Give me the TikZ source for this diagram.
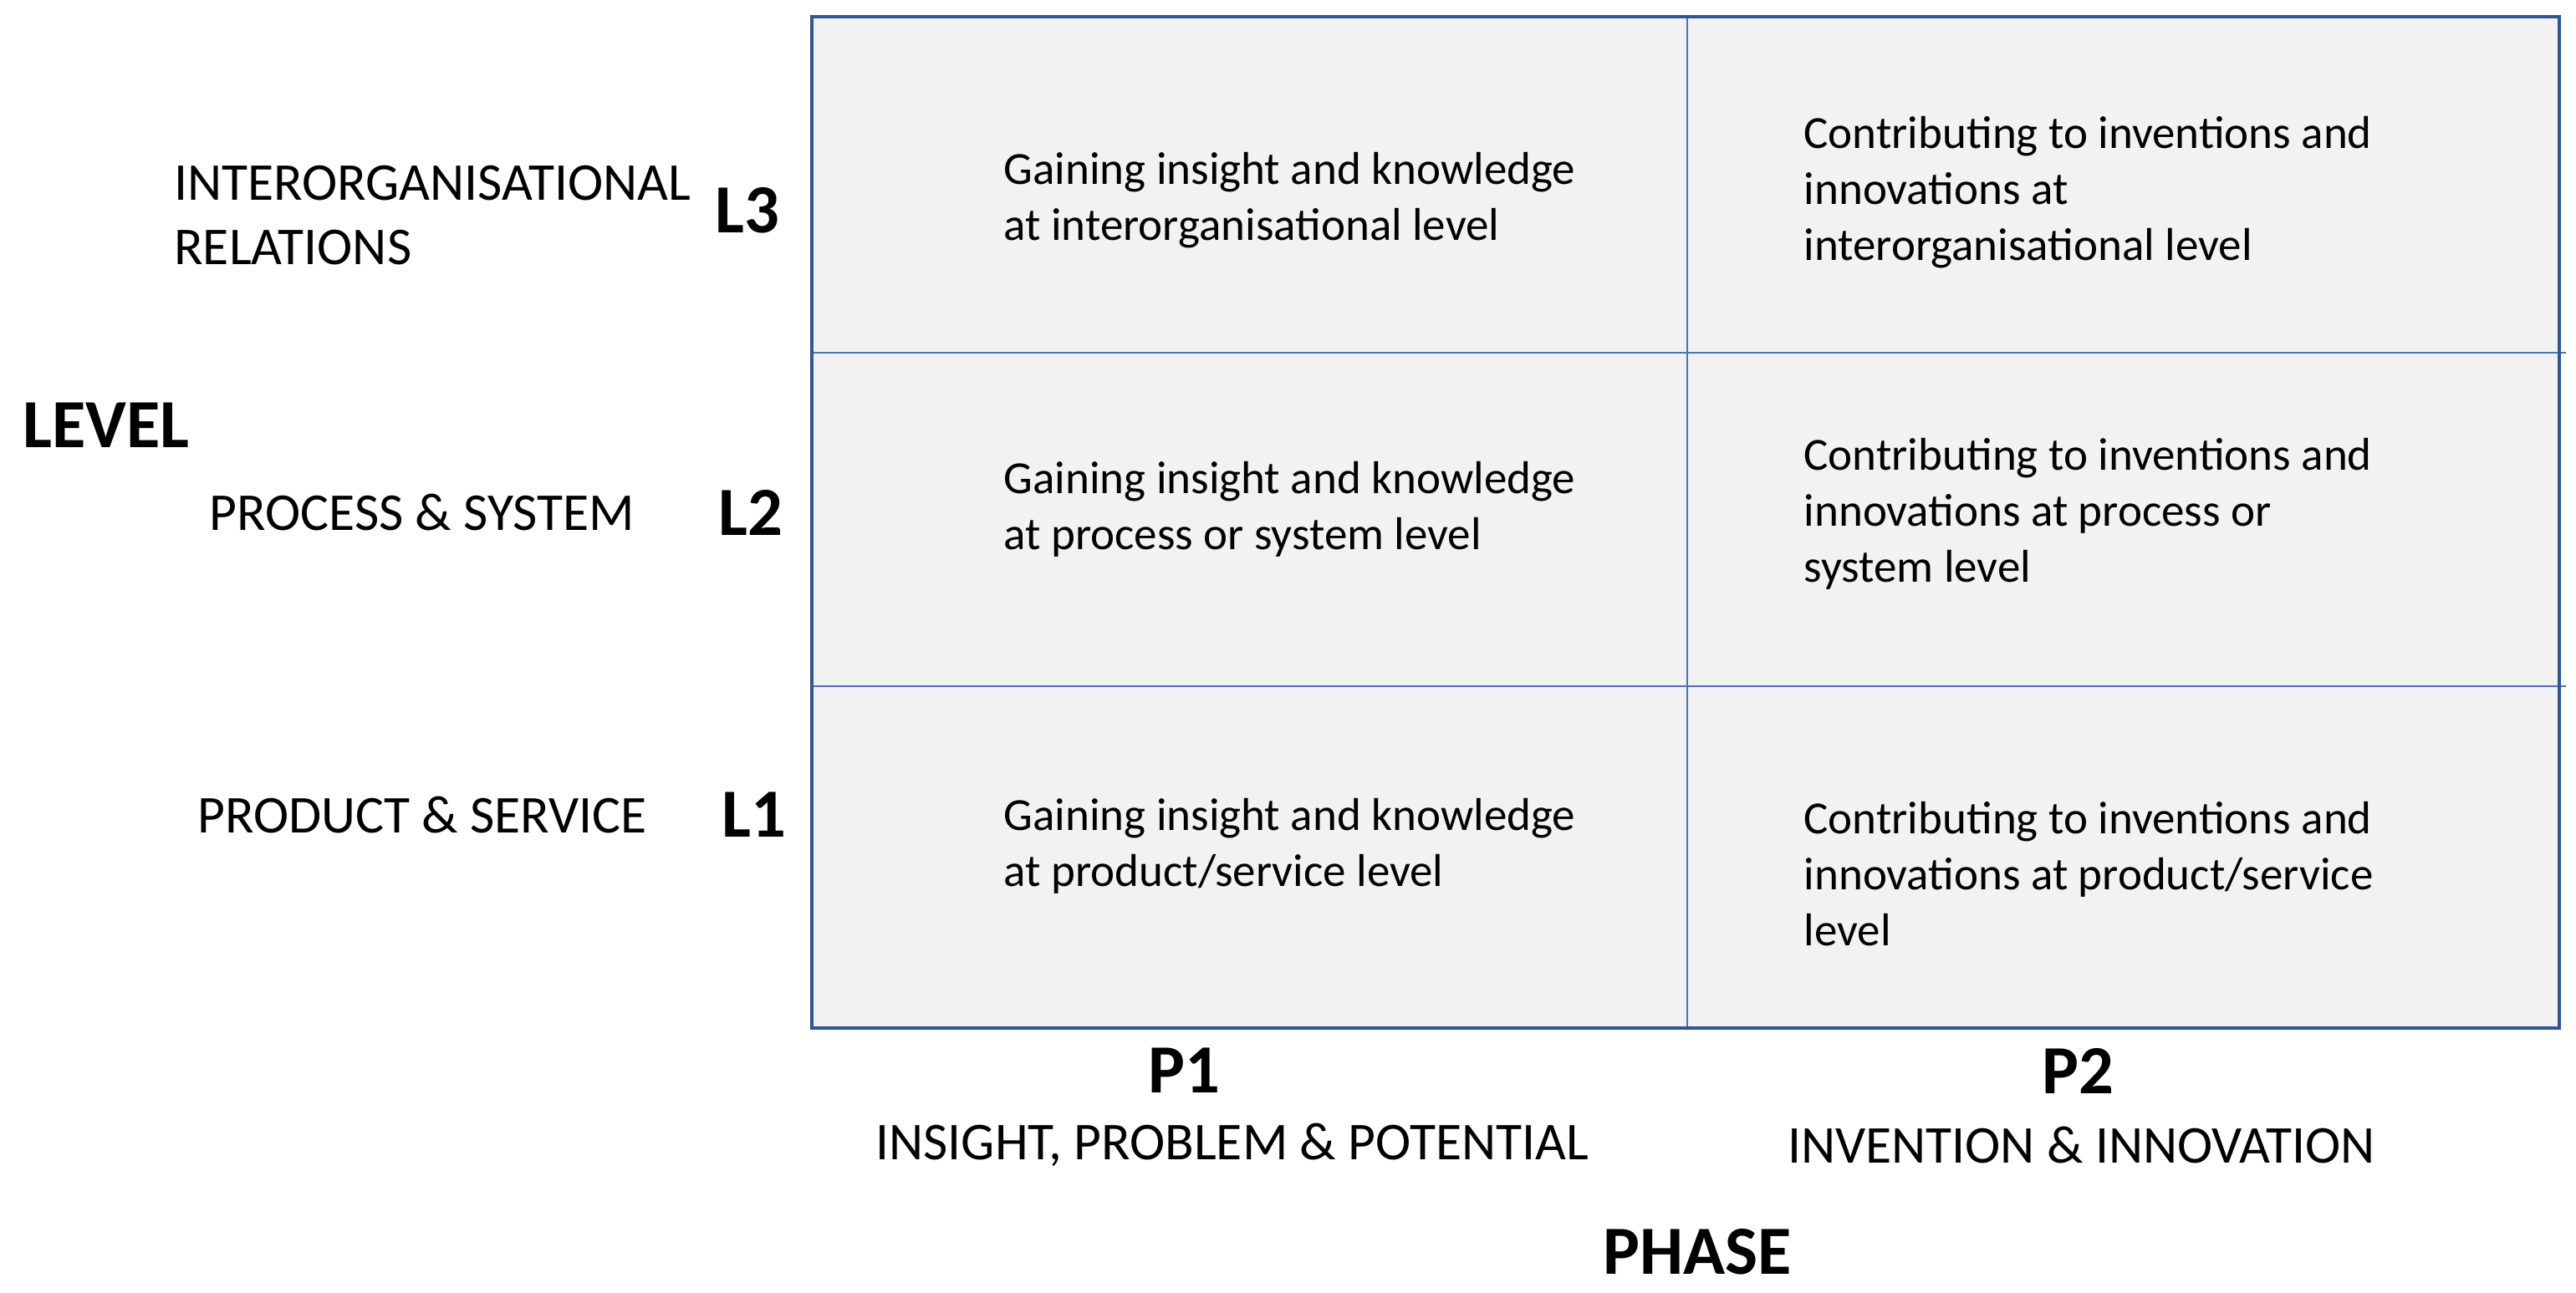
\documentclass[tikz,border=0pt]{standalone}
\usepackage{fontspec}
\setmainfont{Carlito}
\definecolor{bord}{HTML}{2F5597}
\definecolor{inner}{HTML}{4472C4}
\definecolor{cell}{HTML}{F2F2F2}
\begin{document}
\begin{tikzpicture}[x=0.5pt,y=-0.5pt,
  celltxt/.style={anchor=west,align=left,font=\fontsize{14}{17}\selectfont},
  lab/.style={font=\fontsize{16.2}{19.5}\selectfont},
  big/.style={font=\bfseries\fontsize{21}{24}\selectfont}]
\useasboundingbox (0,0) rectangle (1568,787);
\fill[cell] (494,10) rectangle (1558,626);
\draw[inner,line width=0.5pt] (1027,10) -- (1027,626);
\draw[inner,line width=0.5pt] (494,215) -- (1562,215);
\draw[inner,line width=0.5pt] (494,418) -- (1562,418);
\draw[bord,line width=1pt] (494,10) rectangle (1558,626);
\node[celltxt] (a3) at (604,122) {Gaining insight and knowledge\\at interorganisational level};
\node[celltxt] (b3) at (1091,117) {Contributing to inventions and\\innovations at\\interorganisational level};
\node[celltxt] (a2) at (604,310) {Gaining insight and knowledge\\at process or system level};
\node[celltxt] (b2) at (1091,313) {Contributing to inventions and\\innovations at process or\\system level};
\node[celltxt] (a1) at (604,515) {Gaining insight and knowledge\\at product/service level};
\node[celltxt] (b1) at (1091,532) {Contributing to inventions and\\innovations at product/service\\level};
\node[lab,anchor=west,align=left] (r3) at (99,131) {INTERORGANISATIONAL\\RELATIONS};
\node[big] (l3) at (455,128) {L3};
\node[big,anchor=west] (lv) at (7,259) {LEVEL};
\node[lab] (r2) at (257,312) {PROCESS \& SYSTEM};
\node[big] (l2) at (457,312) {L2};
\node[lab] (r1) at (257,496) {PRODUCT \& SERVICE};
\node[big] (l1) at (459,496) {L1};
\node[big] (p1) at (721,652) {P1};
\node[lab] (c1) at (750,697) {INSIGHT, PROBLEM \& POTENTIAL};
\node[big] (p2) at (1265,652) {P2};
\node[lab] (c2) at (1267,697) {INVENTION \& INNOVATION};
\node[big] (ph) at (1033,762) {PHASE};
\end{tikzpicture}
\end{document}
